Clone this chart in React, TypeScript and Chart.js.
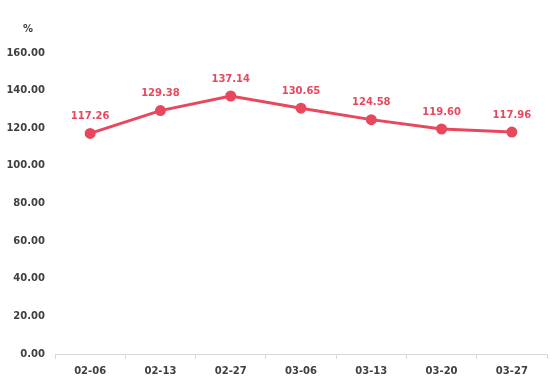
import React, { useEffect, useRef } from "react";
import { Chart, registerables } from "chart.js";

Chart.register(...registerables);

const categories = ["02-06", "02-13", "02-27", "03-06", "03-13", "03-20", "03-27"];
const values = [117.26, 129.38, 137.14, 130.65, 124.58, 119.6, 117.96];
const yTicks = [0, 20, 40, 60, 80, 100, 120, 140, 160];
const unitLabel = "%";

const RED = "#e8485d";
const TEXT = "#404040";
const FONT = "DejaVu Sans";

const labelPlugin = {
  id: "labels",
  afterDatasetsDraw(chart: any) {
    const ctx = chart.ctx;
    const meta = chart.getDatasetMeta(0);
    ctx.save();
    ctx.font = `bold 10px "${FONT}"`;
    ctx.fillStyle = RED;
    ctx.textAlign = "center";
    ctx.textBaseline = "middle";
    meta.data.forEach((pt: any, i: number) => {
      ctx.fillText(values[i].toFixed(2), pt.x, pt.y - 17);
    });
    ctx.fillStyle = TEXT;
    ctx.textAlign = "center";
    ctx.fillText(unitLabel, chart.chartArea.left - 27, chart.chartArea.top - 24);
    ctx.restore();
  },
};

export default function App() {
  const ref = useRef<HTMLCanvasElement>(null);
  useEffect(() => {
    document.body.style.margin = "0";
    const chart = new Chart(ref.current!, {
      type: "line",
      data: {
        labels: categories,
        datasets: [
          {
            data: values,
            borderColor: RED,
            backgroundColor: RED,
            borderWidth: 3,
            pointRadius: 4,
            pointBackgroundColor: RED,
            pointBorderColor: RED,
            tension: 0,
          },
        ],
      },
      options: {
        animation: false,
        responsive: false,
        maintainAspectRatio: false,
        layout: { padding: { top: 53, right: 4, bottom: 1, left: 0 } },
        plugins: { legend: { display: false }, tooltip: { enabled: false } },
        scales: {
          x: {
            offset: true,
            grid: {
              display: true,
              drawOnChartArea: false,
              drawTicks: true,
              tickLength: 5,
              offset: true,
              color: "#d9d9d9",
            },
            border: { display: true, color: "#d9d9d9", width: 1 },
            ticks: { color: TEXT, font: { family: FONT, size: 10, weight: "bold" }, padding: 6 },
          },
          y: {
            min: 0,
            max: 160,
            afterBuildTicks: (scale: any) => {
              scale.ticks = yTicks.map((v) => ({ value: v }));
            },
            afterFit: (scale: any) => {
              scale.width = 55;
            },
            grid: { display: false, drawTicks: false },
            border: { display: false },
            ticks: {
              color: TEXT,
              font: { family: FONT, size: 10, weight: "bold" },
              padding: 10,
              callback: (v: any) => Number(v).toFixed(2),
            },
          },
        },
      },
      plugins: [labelPlugin],
    });
    return () => chart.destroy();
  }, []);
  return (
    <div style={{ width: 554, height: 384 }}>
      <canvas ref={ref} width={554} height={384} />
    </div>
  );
}
